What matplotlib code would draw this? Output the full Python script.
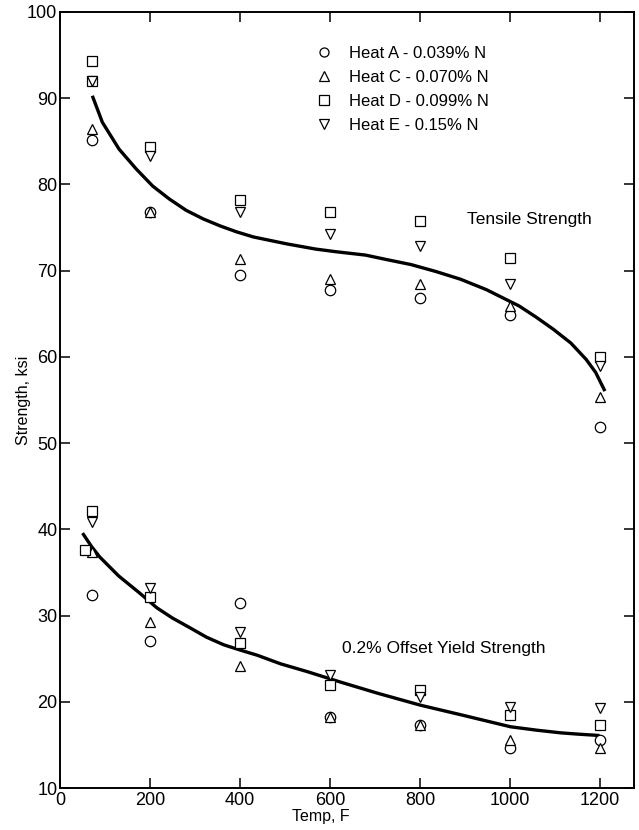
import matplotlib
matplotlib.use("Agg")
import matplotlib.pyplot as plt
from matplotlib.lines import Line2D

plt.rcParams['font.family'] = ['Liberation Sans', 'DejaVu Sans']

# tensile strength, ksi
ts_temp_A = [70, 200, 400, 600, 800, 1000, 1200]
ts_heat_A = [85.2, 76.8, 69.5, 67.7, 66.8, 64.9, 51.9]
ts_temp_C = [70, 200, 400, 600, 800, 1000, 1200]
ts_heat_C = [86.4, 76.8, 71.3, 69.0, 68.4, 65.9, 55.3]
ts_temp_D = [70, 70, 200, 400, 600, 800, 1000, 1200]
ts_heat_D = [94.3, 92.0, 84.3, 78.2, 76.8, 75.7, 71.5, 60.0]
ts_temp_E = [70, 200, 400, 600, 800, 1000, 1200]
ts_heat_E = [92.0, 83.3, 76.8, 74.3, 72.8, 68.4, 58.9]

# 0.2% offset yield strength, ksi
ys_temp_A = [70, 200, 400, 600, 800, 1000, 1200]
ys_heat_A = [32.4, 27.0, 31.5, 18.2, 17.3, 14.6, 15.6]
ys_temp_C = [70, 200, 400, 600, 800, 1000, 1200]
ys_heat_C = [37.4, 29.2, 24.1, 18.2, 17.3, 15.6, 14.6]
ys_temp_D = [70, 55, 200, 400, 600, 800, 1000, 1200]
ys_heat_D = [42.1, 37.6, 32.1, 26.8, 22.0, 21.4, 18.5, 17.3]
ys_temp_E = [70, 200, 400, 600, 800, 1000, 1200]
ys_heat_E = [40.9, 33.2, 28.1, 23.1, 20.6, 19.4, 19.3]

# faired curves
ts_curve_t = [73, 94, 131, 169, 206, 243, 280, 318, 355, 392, 430, 504, 568,
              612, 679, 724, 780, 835, 890, 947, 1020, 1058, 1096, 1135, 1169,
              1190, 1209]
ts_curve_v = [90.1, 87.2, 84.1, 81.8, 79.8, 78.3, 77.0, 76.0, 75.2, 74.5, 73.9,
              73.1, 72.5, 72.2, 71.8, 71.3, 70.7, 69.9, 69.0, 67.8, 65.9, 64.6,
              63.2, 61.6, 59.7, 58.2, 56.2]
ys_curve_t = [52, 70, 88, 130, 177, 215, 250, 288, 325, 364, 400, 438, 490,
              549, 622, 705, 801, 890, 1001, 1060, 1112, 1150, 1195]
ys_curve_v = [39.4, 38.0, 36.8, 34.6, 32.6, 30.9, 29.7, 28.6, 27.5, 26.6, 26.0,
              25.4, 24.4, 23.5, 22.3, 21.0, 19.6, 18.5, 17.1, 16.7, 16.4, 16.25,
              16.1]

labels = ['Heat A - 0.039% N', 'Heat C - 0.070% N',
          'Heat D - 0.099% N', 'Heat E - 0.15% N']
markers = ['o', '^', 's', 'v']

fig = plt.figure(figsize=(6.39, 8.30), dpi=100)
ax = fig.add_axes([0.094, 0.0506, 0.898, 0.935])

style = dict(linestyle='none', mfc='white', mec='black', mew=0.9, ms=7.5)
ts_sets = [(ts_temp_A, ts_heat_A), (ts_temp_C, ts_heat_C),
           (ts_temp_D, ts_heat_D), (ts_temp_E, ts_heat_E)]
ys_sets = [(ys_temp_A, ys_heat_A), (ys_temp_C, ys_heat_C),
           (ys_temp_D, ys_heat_D), (ys_temp_E, ys_heat_E)]

ax.plot(ts_curve_t, ts_curve_v, color='black', lw=2.4, zorder=2,
        solid_joinstyle='round')
ax.plot(ys_curve_t, ys_curve_v, color='black', lw=2.4, zorder=2,
        solid_joinstyle='round')

for (t, v), m in zip(ts_sets, markers):
    ax.plot(t, v, marker=m, zorder=3, **style)
for (t, v), m in zip(ys_sets, markers):
    ax.plot(t, v, marker=m, zorder=3, **style)

handles = [Line2D([], [], marker=m, linestyle='none', mfc='none', mec='black',
                  mew=0.9, ms=6.5) for m in markers]
ax.legend(handles, labels, loc='upper left', bbox_to_anchor=(0.434, 0.965),
          frameon=False, fontsize=12, handlelength=1.0, handletextpad=1.0,
          labelspacing=0.55, borderaxespad=0)

ax.text(905, 75.9, 'Tensile Strength', fontsize=12.5, va='center')
ax.text(626, 26.2, '0.2% Offset Yield Strength', fontsize=12.5, va='center')

ax.set_xlim(0, 1275)
ax.set_ylim(10, 100)
ax.set_xticks([0, 200, 400, 600, 800, 1000, 1200])
ax.set_yticks(range(10, 101, 10))
ax.tick_params(direction='in', length=7, width=1.1, top=True, right=True,
               labelsize=13, pad=3)
ax.tick_params(axis='y', pad=2)
for s in ax.spines.values():
    s.set_linewidth(1.4)

ax.set_xlabel('Temp, F', fontsize=11.5)
ax.xaxis.set_label_coords(0.455, -0.027)
ax.set_ylabel('Strength, ksi', fontsize=11.5)
ax.yaxis.set_label_coords(-0.05, 0.5)

fig.savefig('out.png', dpi=100)
